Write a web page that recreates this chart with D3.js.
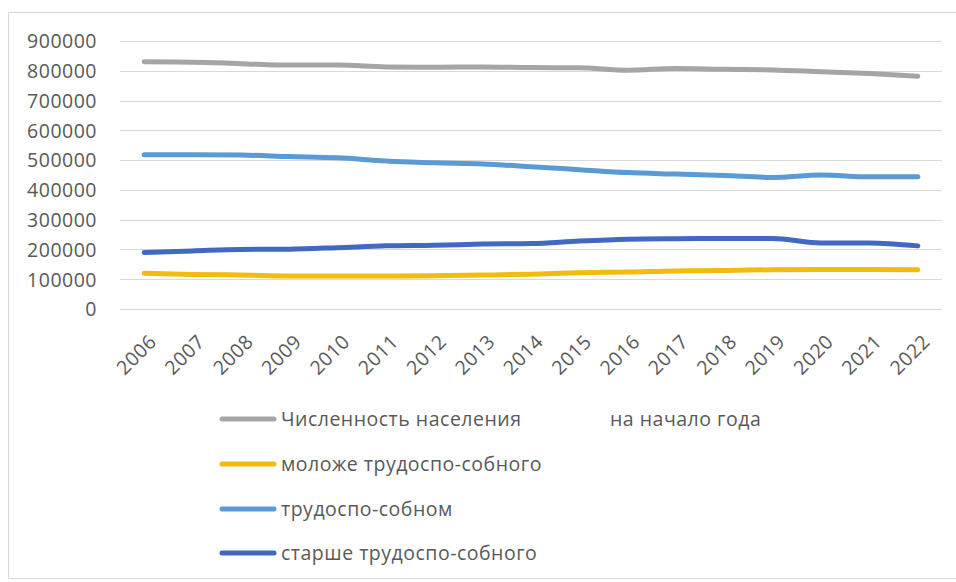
<!DOCTYPE html>
<html><head><meta charset="utf-8">
<script src="https://cdn.jsdelivr.net/npm/d3@7"></script>
<style>
html,body{margin:0;padding:0;background:#fff;}
svg text{font-family:"Open Sans","Noto Sans",sans-serif;fill:#595959;letter-spacing:0.5px;}
</style></head>
<body>
<svg id="chart" width="956" height="582"></svg>
<script>
const years = ["2006","2007","2008","2009","2010","2011","2012","2013","2014","2015","2016","2017","2018","2019","2020","2021","2022"];
const total   = [830000,829000,824000,819000,819000,813000,812000,813000,811000,810000,802000,808000,805000,803000,797000,791000,782000];
const young   = [120000,116000,114000,111000,111000,111000,112000,114000,117000,122000,124000,128000,129000,132000,133000,133000,132000];
const working = [518000,518000,517000,512000,508000,497000,491000,487000,478000,468000,458000,453000,448000,442000,450000,444000,444000];
const old     = [190000,195000,200000,201000,206000,212000,214000,218000,220000,228000,234000,236000,237000,237000,222000,222000,212000];
const yTicks = [0,100000,200000,300000,400000,500000,600000,700000,800000,900000];
const seriesNames = ["Численность населения", "моложе трудоспо-собного", "трудоспо-собном", "старше трудоспо-собного"];
const legendExtra = "на начало года";
const seriesColors = ["#a5a5a5", "#f2bb0d", "#5b9bd5", "#4169c1"];
const seriesData = [total, young, working, old];

const svg = d3.select("#chart");
svg.append("rect").attr("x",8.5).attr("y",12.5).attr("width",960).attr("height",566)
  .attr("fill","#fff").attr("stroke","#d9d9d9").attr("stroke-width",1);

const x = d3.scalePoint().domain(years).range([120, 942]).padding(0.5);
const y = d3.scaleLinear().domain([0, 900000]).range([309, 41]);

// gridlines
svg.append("g").selectAll("line").data(yTicks).join("line")
  .attr("x1",120).attr("x2",942)
  .attr("y1",d=>Math.round(y(d))+0.5).attr("y2",d=>Math.round(y(d))+0.5)
  .attr("stroke","#d9d9d9").attr("stroke-width",1);

// y axis labels
const yAxis = svg.append("g").attr("transform","translate(97,0)")
  .call(d3.axisLeft(y).tickValues(yTicks).tickSize(0).tickPadding(0).tickFormat(d3.format("d")));
yAxis.select(".domain").remove();
yAxis.selectAll("text").attr("font-size",19.5).attr("fill","#595959")
  .style("font-family",'"Open Sans","Noto Sans",sans-serif').attr("dy","0.35em");

// x axis labels
const xAxis = svg.append("g").attr("transform","translate(0,309)")
  .call(d3.axisBottom(x).tickSize(0).tickPadding(0));
xAxis.select(".domain").remove();
xAxis.selectAll("text")
  .attr("font-size",19.5).attr("fill","#595959")
  .style("font-family",'"Open Sans","Noto Sans",sans-serif')
  .attr("text-anchor","end").attr("y",0).attr("dy",0)
  .attr("transform","translate(13,34) rotate(-45)");

// lines
const line = d3.line().x((d,i)=>x(years[i])).y(d=>y(d)).curve(d3.curveMonotoneX);
seriesData.forEach((s,k)=>{
  svg.append("path").datum(s).attr("d",line).attr("fill","none")
    .attr("stroke",seriesColors[k]).attr("stroke-width",5)
    .attr("stroke-linecap","round").attr("stroke-linejoin","round");
});

// legend
const legY = d3.scaleOrdinal().domain(seriesNames).range([419,464,509,553]);
const leg = svg.append("g");
seriesNames.forEach((n,k)=>{
  const g = leg.append("g").attr("transform",`translate(0,${legY(n)})`);
  g.append("line").attr("x1",222).attr("x2",274).attr("y1",0).attr("y2",0)
    .attr("stroke",seriesColors[k]).attr("stroke-width",5).attr("stroke-linecap","round");
  g.append("text").attr("x",281).attr("y",0).attr("dy","0.35em").attr("font-size",19.5).text(n);
  if(k===0) g.append("text").attr("x",610).attr("y",0).attr("dy","0.35em").attr("font-size",19.5).text(legendExtra);
});
</script>
</body></html>
